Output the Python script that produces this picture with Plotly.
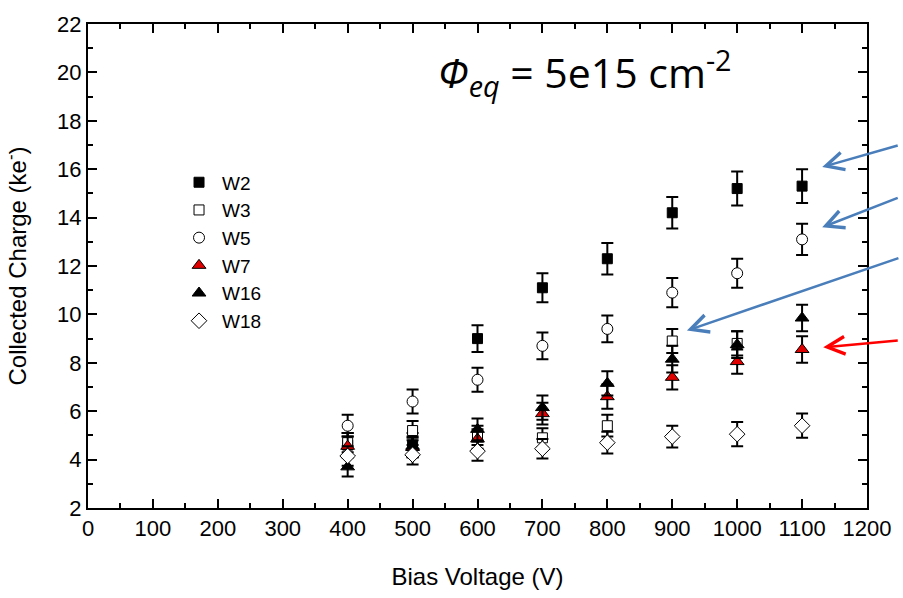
import plotly.graph_objects as go

voltage = [400, 500, 600, 700, 800, 900, 1000, 1100]

w2 = [4.6, 4.6, 9.0, 11.1, 12.3, 14.2, 15.2, 15.3]
w2_err = [0.5, 0.5, 0.55, 0.6, 0.65, 0.65, 0.7, 0.7]
w3 = [4.7, 5.2, 5.0, 4.9, 5.4, 8.9, 8.8, None]
w3_err = [0.4, 0.4, 0.4, 0.4, 0.45, 0.5, 0.5, 0]
w5 = [5.4, 6.4, 7.3, 8.7, 9.4, 10.9, 11.7, 13.1]
w5_err = [0.45, 0.5, 0.5, 0.55, 0.55, 0.6, 0.6, 0.65]
w7 = [4.55, 4.5, 4.85, 5.9, 6.6, 7.4, 8.05, 8.55]
w7_err = [0.4, 0.4, 0.4, 0.45, 0.5, 0.5, 0.5, 0.55]
w16 = [3.7, 4.55, 5.25, 6.15, 7.15, 8.15, 8.75, 9.85]
w16_err = [0.4, 0.4, 0.45, 0.5, 0.5, 0.55, 0.55, 0.55]
w18 = [4.15, 4.2, 4.35, 4.45, 4.7, 4.95, 5.05, 5.4]
w18_err = [0.4, 0.4, 0.4, 0.4, 0.45, 0.45, 0.5, 0.5]

series = [
    ("W2", w2, w2_err, "square", 10, "black"),
    ("W3", w3, w3_err, "square", 10, "white"),
    ("W5", w5, w5_err, "circle", 11, "white"),
    ("W7", w7, w7_err, "triangle-up", 12, "#e00000"),
    ("W16", w16, w16_err, "triangle-up", 12, "black"),
    ("W18", w18, w18_err, "diamond", 12, "white"),
]

fig = go.Figure()
for name, ys, errs, sym, size, fill in series:
    fig.add_trace(go.Scatter(
        x=voltage, y=ys, name=name, mode="markers",
        marker=dict(symbol=sym, size=size, color=fill,
                    line=dict(color="black", width=1)),
        error_y=dict(type="data", array=errs, color="black",
                     thickness=2, width=6),
    ))

font_family = "Liberation Sans, Arial, sans-serif"

fig.update_layout(
    width=903, height=598,
    margin=dict(l=88, r=32, t=17, b=90),
    paper_bgcolor="white", plot_bgcolor="white",
    font=dict(family=font_family, color="black", size=22),
    showlegend=True,
    legend=dict(x=0.113, y=0.712, xanchor="left", yanchor="top",
                bgcolor="rgba(0,0,0,0)", font=dict(size=19),
                tracegroupgap=0, itemsizing="trace", itemwidth=36),
    xaxis=dict(
        range=[0, 1200], dtick=100, tick0=0,
        showline=True, linecolor="black", linewidth=2, mirror="ticks",
        ticks="inside", ticklen=9, tickwidth=1.5, tickcolor="black",
        minor=dict(dtick=50, ticks="inside", ticklen=5, tickwidth=1.5, tickcolor="black"),
        showgrid=False, zeroline=False,
        tickfont=dict(size=22),
        title=dict(text="Bias Voltage (V)", font=dict(size=24), standoff=28),
    ),
    yaxis=dict(
        range=[2, 22], dtick=2, tick0=2,
        showline=True, linecolor="black", linewidth=2, mirror="ticks",
        ticks="inside", ticklen=9, tickwidth=1.5, tickcolor="black",
        minor=dict(dtick=1, ticks="inside", ticklen=5, tickwidth=1.5, tickcolor="black"),
        showgrid=False, zeroline=False,
        tickfont=dict(size=22),
        title=dict(text="Collected Charge (ke<sup>-</sup>)", font=dict(size=24), standoff=24),
    ),
)

fig.add_annotation(
    x=766, y=20.0, xref="x", yref="y", showarrow=False,
    text="<i>Φ<sub>eq</sub></i> = 5e15 cm<sup>-2</sup>",
    font=dict(family="Open Sans, Noto Sans, sans-serif", size=41, color="black"),
    xanchor="center", yanchor="middle",
)

blue = "#4a7ebb"
arrows = [
    (1131, 16.09, 77, -22, blue),
    (1131, 13.6, 77, -30, blue),
    (922.6, 9.33, 213, -73, blue),
    (1132.6, 8.64, 76, -7, "#ff0000"),
]
for hx, hy, ax, ay, col in arrows:
    fig.add_annotation(
        x=hx, y=hy, xref="x", yref="y", ax=ax, ay=ay,
        showarrow=True, arrowhead=5, arrowsize=1.4, arrowwidth=2.5,
        arrowcolor=col, text="",
    )

fig.write_html("out.html")
